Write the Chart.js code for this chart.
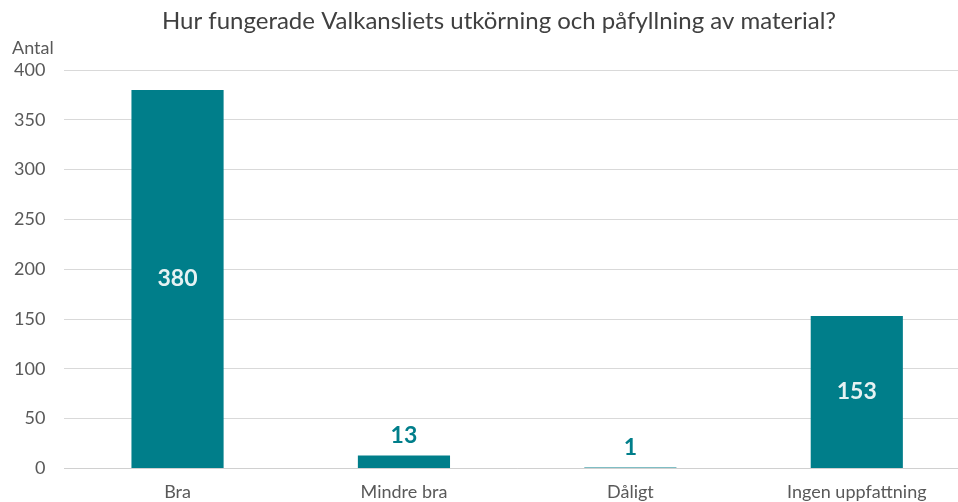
<!DOCTYPE html>
<html>
<head>
<meta charset="utf-8">
<script src="https://cdn.jsdelivr.net/npm/chart.js@4/dist/chart.umd.min.js"></script>
<style>
  html, body { margin: 0; padding: 0; background: #fff; overflow: hidden; }
  #wrap { width: 958px; height: 502px; overflow: hidden; }
</style>
</head>
<body>
<div id="wrap"><canvas id="myChart" width="972" height="516"></canvas></div>
<script>
const categories = ['Bra', 'Mindre bra', 'Dåligt', 'Ingen uppfattning'];
const answers = [380, 13, 1, 153];
const yTicks = [0, 50, 100, 150, 200, 250, 300, 350, 400];
const chartTitle = 'Hur fungerade Valkansliets utkörning och påfyllning av material?';

const teal = '#007E8A';
const FONT = 'Lato, "Open Sans", sans-serif';

// title, "Antal" and the value labels are drawn by hand
const valueLabels = {
    id: 'valueLabels',
    afterDatasetsDraw(chart) {
        const c = chart.ctx;
        const meta = chart.getDatasetMeta(0);
        c.save();
        c.font = 'bold 23px ' + FONT;
        c.textAlign = 'center';
        c.textBaseline = 'middle';
        meta.data.forEach((bar, i) => {
            const v = answers[i];
            if (v > 50) {
                c.fillStyle = '#E6F2F3';
                c.fillText(v, bar.x, (bar.y + bar.base) / 2);
            } else {
                c.fillStyle = teal;
                c.fillText(v, bar.x, bar.y - 20);
            }
        });

        c.font = '24px ' + FONT;
        c.fillStyle = '#404040';
        c.fillText(chartTitle, 499, 21);

        const ys = chart.scales.y;
        c.font = '18px ' + FONT;
        c.fillStyle = '#595959';
        c.textAlign = 'left';
        c.fillText('Antal', 12, ys.getPixelForValue(400) - 22);
        c.restore();
    }
};

const ctx = document.getElementById('myChart').getContext('2d');

const myChart = new Chart(ctx, {
    type: 'bar',
    data: {
        labels: categories,
        datasets: [{
            data: answers,
            backgroundColor: teal,
            barPercentage: 0.407,
            categoryPercentage: 1
        }]
    },
    options: {
        responsive: false,
        animation: false,
        layout: { padding: { left: -5, right: 2, top: 70 } },
        plugins: {
            legend: { display: false },
            tooltip: { enabled: false },
            title: { display: false }
        },
        scales: {
            x: {
                grid: { display: false, drawTicks: false },
                border: { color: '#D0D0D0', width: 1 },
                ticks: {
                    color: '#595959',
                    font: { family: FONT, size: 18 },
                    padding: 13
                }
            },
            y: {
                min: 0,
                max: 400,
                afterBuildTicks(scale) {
                    scale.ticks = yTicks.map(v => ({ value: v }));
                },
                grid: { color: '#D9D9D9', drawTicks: false },
                border: { display: false },
                ticks: {
                    color: '#595959',
                    font: { family: FONT, size: 18 },
                    padding: 19
                }
            }
        }
    },
    plugins: [valueLabels]
});
</script>
</body>
</html>
